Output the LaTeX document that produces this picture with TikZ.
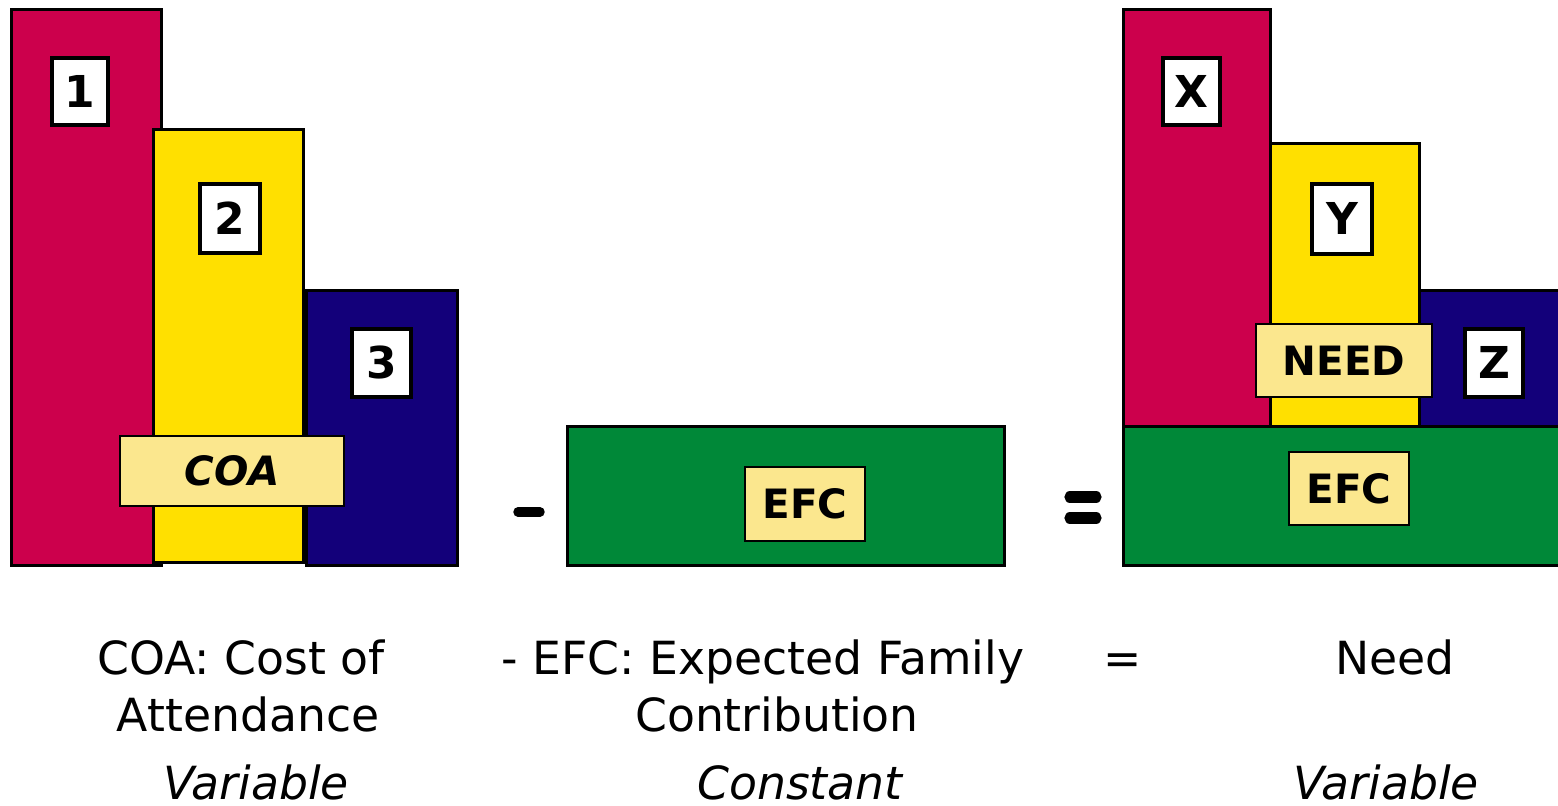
\documentclass[tikz,border=0pt]{standalone}
\usepackage{fontspec}
\setmainfont{DejaVu Sans}
\usepackage{tikz}
\usetikzlibrary{positioning,calc}
\definecolor{barred}{RGB}{204,0,76}
\definecolor{baryellow}{RGB}{255,224,0}
\definecolor{barblue}{RGB}{19,0,122}
\definecolor{bargreen}{RGB}{0,136,56}
\definecolor{tagfill}{RGB}{251,231,142}

\begin{document}
\begin{tikzpicture}[semithick]
	\tikzstyle{bar}=[draw=black,line width=0.9pt,anchor=south west,inner sep=0pt]
	\tikzstyle{numbox}=[draw=black,line width=0.9pt,fill=white,inner sep=0pt,font=\fontsize{12.5}{14}\selectfont\bfseries]
	\tikzstyle{tag}=[draw=black,line width=0.6pt,fill=tagfill,inner sep=0pt,font=\fontsize{11.5}{13}\selectfont\bfseries]
	\tikzstyle{caption}=[anchor=base,inner sep=0pt,font=\fontsize{13}{15}\selectfont]
	\tikzstyle{sign}=[line width=2.7pt,line cap=round]

	\useasboundingbox (0,0) rectangle (15.58,8.06);

	% cost of attendance
	\node[bar,fill=barred,minimum width=1.50cm,minimum height=5.56cm] (coa1) at (0.10,2.39) {};
	\node[bar,fill=baryellow,minimum width=1.50cm,minimum height=4.33cm] (coa2) at (1.52,2.42) {};
	\node[bar,fill=barblue,minimum width=1.51cm,minimum height=2.75cm] (coa3) at (3.05,2.39) {};
	\node[numbox,minimum width=0.56cm,minimum height=0.67cm] (n1) at (0.80,7.145) {1};
	\node[numbox,minimum width=0.60cm,minimum height=0.69cm] (n2) at (2.30,5.875) {2};
	\node[numbox,minimum width=0.59cm,minimum height=0.68cm] (n3) at (3.815,4.43) {3};
	\node[tag,minimum width=2.24cm,minimum height=0.70cm,font=\fontsize{11.5}{13}\selectfont\bfseries\itshape] (coa) at (2.32,3.35) {COA};

	% minus
	\draw[sign] (5.18,2.94) -- (5.40,2.94);

	% expected family contribution
	\node[bar,fill=bargreen,minimum width=4.37cm,minimum height=1.39cm] (efcbar) at (5.66,2.39) {};
	\node[tag,minimum width=1.20cm,minimum height=0.74cm] (efc) at (8.05,3.02) {EFC};

	% equals
	\draw[sign,line width=3.2pt] (10.70,3.09) -- (10.96,3.09);
	\draw[sign,line width=3.2pt] (10.70,2.88) -- (10.96,2.88);

	% need
	\node[bar,fill=barred,minimum width=1.47cm,minimum height=4.17cm] (need1) at (11.22,3.78) {};
	\node[bar,fill=baryellow,minimum width=1.49cm,minimum height=2.83cm] (need2) at (12.69,3.78) {};
	\node[bar,fill=barblue,minimum width=1.50cm,minimum height=1.36cm] (need3) at (14.18,3.78) {};
	\node[bar,fill=bargreen,minimum width=4.50cm,minimum height=1.39cm] (needefc) at (11.22,2.39) {};
	\node[numbox,minimum width=0.57cm,minimum height=0.67cm] (nx) at (11.915,7.145) {X};
	\node[numbox,minimum width=0.60cm,minimum height=0.70cm] (ny) at (13.42,5.87) {Y};
	\node[numbox,minimum width=0.58cm,minimum height=0.68cm] (nz) at (14.94,4.43) {Z};
	\node[tag,minimum width=1.76cm,minimum height=0.73cm] (need) at (13.44,4.455) {NEED};
	\node[tag,minimum width=1.20cm,minimum height=0.73cm] (efc2) at (13.49,3.175) {EFC};

	% captions
	\node[caption] (capcoa) at (2.41,1.31) {COA: Cost of};
	\node[caption] (capcoab) at (2.48,0.74) {Attendance};
	\node[caption,font=\fontsize{13}{15}\selectfont\itshape] (varcoa) at (2.56,0.06) {Variable};
	\node[caption] (capefc) at (7.63,1.31) {- EFC: Expected Family};
	\node[caption] (capefcb) at (7.77,0.74) {Contribution};
	\node[caption,font=\fontsize{13}{15}\selectfont\itshape] (conefc) at (8.00,0.06) {Constant};
	\node[caption] (capeq) at (11.23,1.31) {=};
	\node[caption] (capneed) at (13.95,1.31) {Need};
	\node[caption,font=\fontsize{13}{15}\selectfont\itshape] (varneed) at (13.86,0.06) {Variable};
\end{tikzpicture}
\end{document}
